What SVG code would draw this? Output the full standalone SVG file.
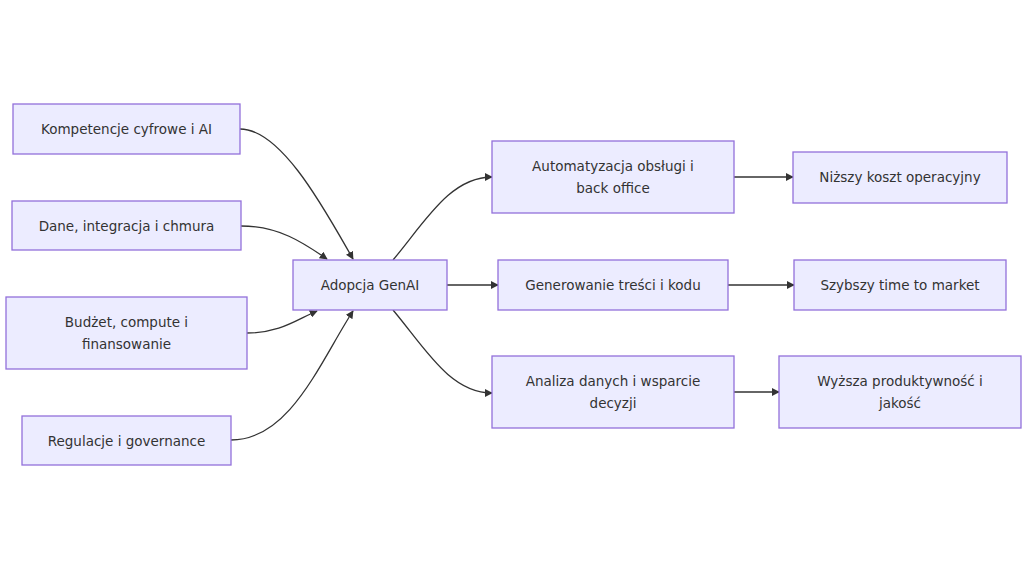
<svg xmlns="http://www.w3.org/2000/svg" width="1024" height="576" viewBox="0 0 1024 576">
<style>
.n rect{fill:#ECECFF;stroke:#9370DB;stroke-width:1.3}
.n text{font-family:"DejaVu Sans",Verdana,sans-serif;font-size:13.5px;fill:#333;text-anchor:middle;dominant-baseline:central}
.e path{fill:none;stroke:#333;stroke-width:1.3;marker-end:url(#ah)}
</style>
<defs>
<marker id="ah" viewBox="0 0 10 10" refX="9" refY="5" markerWidth="8" markerHeight="8" markerUnits="userSpaceOnUse" orient="auto">
<path d="M0,0 L10,5 L0,10 z" fill="#333"/>
</marker>
</defs>
<rect width="1024" height="576" fill="#fff"/>
<g class="e" id="connectors">
<path d="M240,129 C282,129 326,212 353,259"/>
<path d="M241,226 C280,226 305,244 327,259"/>
<path d="M247,333 C280,333 296,320 317,311"/>
<path d="M231,440 C290,440 320,362 353,311"/>
<path d="M393,260 C425,222 450,177 492,177"/>
<path d="M447,285 L498,285"/>
<path d="M393,310 C425,348 450,393 492,393"/>
<path d="M734,177 L793,177"/>
<path d="M728,285 L794,285"/>
<path d="M734,392 L779,392"/>
</g>
<g class="n" id="n-kompetencje"><rect x="13" y="104" width="227" height="50"/><text x="126.5" y="129">Kompetencje cyfrowe i AI</text></g>
<g class="n" id="n-dane"><rect x="12" y="201" width="229" height="49"/><text x="126.5" y="225.5">Dane, integracja i chmura</text></g>
<g class="n" id="n-budzet"><rect x="6" y="297" width="241" height="72"/><text x="126.5" y="322">Budżet, compute i</text><text x="126.5" y="344">finansowanie</text></g>
<g class="n" id="n-regulacje"><rect x="22" y="416" width="209" height="49"/><text x="126.5" y="440.5">Regulacje i governance</text></g>
<g class="n" id="n-adopcja"><rect x="293" y="260" width="154" height="50"/><text x="370" y="285">Adopcja GenAI</text></g>
<g class="n" id="n-automatyzacja"><rect x="492" y="141" width="242" height="72"/><text x="613" y="166">Automatyzacja obsługi i</text><text x="613" y="188">back office</text></g>
<g class="n" id="n-generowanie"><rect x="498" y="260" width="230" height="50"/><text x="613" y="285">Generowanie treści i kodu</text></g>
<g class="n" id="n-analiza"><rect x="492" y="356" width="242" height="72"/><text x="613" y="381">Analiza danych i wsparcie</text><text x="613" y="403">decyzji</text></g>
<g class="n" id="n-nizszy"><rect x="793" y="152" width="214" height="51"/><text x="900" y="177">Niższy koszt operacyjny</text></g>
<g class="n" id="n-szybszy"><rect x="794" y="260" width="212" height="50"/><text x="900" y="285">Szybszy time to market</text></g>
<g class="n" id="n-wyzsza"><rect x="779" y="356" width="242" height="72"/><text x="900" y="381">Wyższa produktywność i</text><text x="900" y="403">jakość</text></g>
</svg>
